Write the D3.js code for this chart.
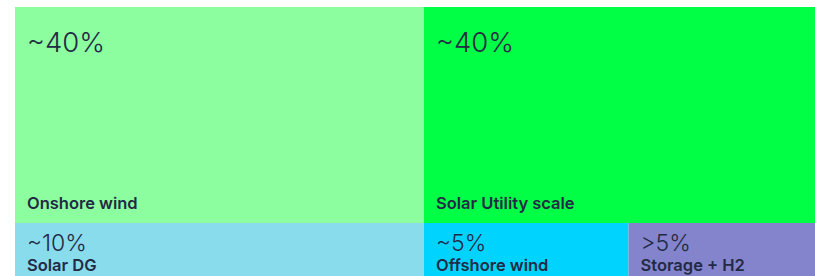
<!DOCTYPE html>
<html lang="en">
<head>
<meta charset="utf-8">
<title>Capacity mix</title>
<script src="https://d3js.org/d3.v7.min.js"></script>
<style>
  body { margin: 0; background: #fff; }
  svg { display: block; }
  .pct { font-family: Inter, "Noto Sans", sans-serif; font-weight: 300; fill: #232a45; }
  .lbl { font-family: Inter, "Noto Sans", sans-serif; font-weight: 600; font-size: 16.5px; fill: #232a45; }
</style>
</head>
<body>
<script>
// data
var categories = ["Onshore wind", "Solar Utility scale", "Solar DG", "Offshore wind", "Storage + H2"];
var shares = [40, 40, 10, 5, 5];
var shareLabels = ["~40%", "~40%", "~10%", "~5%", ">5%"];
var rowIndex = [0, 0, 1, 1, 1];
var colors = ["#8cfe9f", "#00ff45", "#88dcec", "#00d4fe", "#8484cc"];

var width = 815, height = 276;

var svg = d3.select("body").append("svg")
    .attr("width", width)
    .attr("height", height);

var cells = categories.map(function(c, i) {
  return { name: c, value: shares[i], label: shareLabels[i], row: rowIndex[i], color: colors[i] };
});

// rows stacked by their total share, cells laid side by side inside a row
var rowTotals = d3.rollups(cells, function(v) { return d3.sum(v, function(d) { return d.value; }); }, function(d) { return d.row; })
    .sort(function(a, b) { return a[0] - b[0]; });

var y = d3.scaleLinear().domain([0, d3.sum(shares)]).range([7, 277]);

var yStart = 0;
rowTotals.forEach(function(r) {
  var rowCells = cells.filter(function(d) { return d.row === r[0]; });
  var x = d3.scaleLinear().domain([0, r[1]]).range([15, 833]);
  var xStart = 0;
  rowCells.forEach(function(d) {
    d.x0 = x(xStart); d.x1 = x(xStart + d.value);
    d.y0 = y(yStart); d.y1 = y(yStart + r[1]);
    xStart += d.value;
  });
  yStart += r[1];
});

var g = svg.selectAll(".cell")
    .data(cells)
    .enter().append("g")
    .attr("class", "cell")
    .attr("transform", function(d) { return "translate(" + d.x0 + "," + d.y0 + ")"; });

g.append("rect")
    .attr("width", function(d) { return d.x1 - d.x0; })
    .attr("height", function(d) { return d.y1 - d.y0; })
    .style("fill", function(d) { return d.color; });

var big = function(d) { return d.y1 - d.y0 > 100; };

g.append("text")
    .attr("class", "pct")
    .attr("x", 12)
    .attr("y", function(d) { return big(d) ? 44.5 : 27.5; })
    .style("font-size", function(d) { return big(d) ? "27.5px" : "23px"; })
    .text(function(d) { return d.label; });

g.append("text")
    .attr("class", "lbl")
    .attr("x", 12)
    .attr("y", function(d) { return big(d) ? (d.y1 - d.y0) - 14 : 48; })
    .text(function(d) { return d.name; });
</script>
</body>
</html>
